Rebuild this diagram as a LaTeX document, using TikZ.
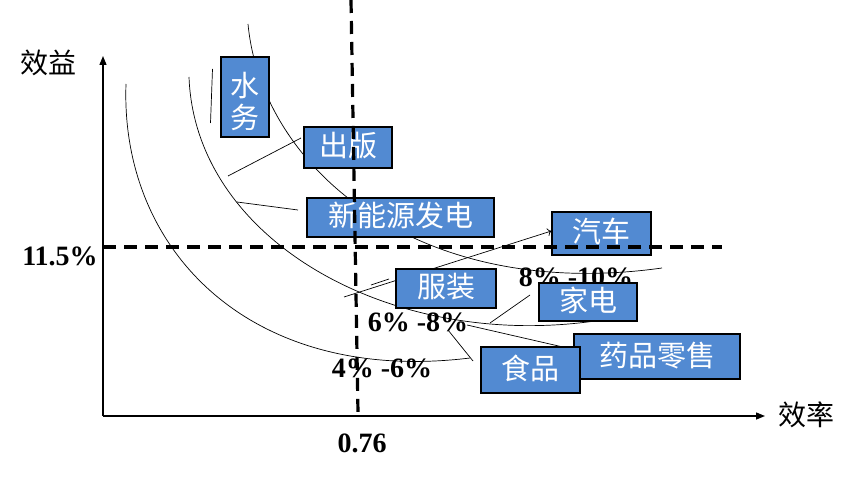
\documentclass[tikz,border=0pt]{standalone}
\usepackage{fontspec}
\setmainfont{Liberation Serif}
\newfontfamily\cjk{Noto Sans CJK SC}
\usetikzlibrary{arrows.meta}
\definecolor{boxblue}{RGB}{82,138,210}
\begin{document}
\begin{tikzpicture}[x=1pt,y=-1pt,
  curve/.style={line width=0.7pt},
  leader/.style={line width=0.7pt},
  axis/.style={line width=1.4pt,-{Triangle[length=9pt,width=7pt]}},
  guide/.style={line width=3.2pt,dash pattern=on 13pt off 8pt},
  catbox/.style={draw=black,line width=1.2pt,fill=boxblue,text=white,inner sep=0pt,
     font=\cjk\fontsize{29}{32}\selectfont,text height=24pt,text depth=5pt},
  boxtext/.style={text=white,inner sep=0pt,font=\cjk\fontsize{29}{32}\selectfont,text height=25pt,text depth=4pt},
  pct/.style={font=\bfseries\fontsize{28}{30}\selectfont,inner sep=0pt},
  axlabel/.style={font=\cjk\fontsize{28}{30}\selectfont,inner sep=0pt}]
\useasboundingbox (0,0) rectangle (862,478);

% axes
\coordinate (O) at (103,416);
\coordinate (Ytip) at (103,56);
\coordinate (Xtip) at (765,416);
\draw[axis] (O) -- (Ytip);
\draw[axis] (O) -- (Xtip);
\node[axlabel] (ylab) at (48,63) {效益};
\node[axlabel] (xlab) at (806,415) {效率};

% curves
\draw[curve] (126,84) .. controls (120,250) and (250,385) .. (470,358);
\draw[curve] (189,77) .. controls (195,240) and (390,350) .. (595,321);
\draw[curve] (248,24) .. controls (262,170) and (420,302) .. (662,268);

% labels
\node[pct] (p115) at (60,256) {11.5\%};
\node[pct] (p076) at (362,443) {0.76};
\node[pct] (p810) at (576,277) {8\% -10\%};
\node[pct] (p68) at (418,322) {6\% -8\%};
\node[pct] (p46) at (382,368) {4\% -6\%};

% leader end points
\coordinate (sw1) at (212.5,69);
\coordinate (sw2) at (210.5,123);
\coordinate (cb1) at (301,138);
\coordinate (cb2) at (228,176);
\coordinate (xn1) at (298,210);
\coordinate (xn2) at (237,202);
\coordinate (fz1) at (344,297);
\coordinate (fz3) at (371,285);
\coordinate (fz4) at (389,279);
\coordinate (jd1) at (530,295);
\coordinate (jd2) at (490,323);
\coordinate (yp1) at (467,325);
\coordinate (yp2) at (576,350);
\coordinate (sp1) at (448,330);
\coordinate (sp2) at (473,361);

% boxes
\node[catbox,minimum width=187pt,minimum height=39pt] (xny) at (400.5,217.5) {新能源发电};
\node[catbox,minimum width=99pt,minimum height=43pt] (qc) at (601.5,233.5) {汽车};
\node[catbox,minimum width=166pt,minimum height=45pt] (yp) at (657,356.5) {药品零售};

\draw[leader] (sw1) -- (sw2);
\draw[leader] (cb1) -- (cb2);
\draw[leader] (xn1) -- (xn2);
\draw[leader,-{To[length=4pt,width=8pt]}] (fz1) -- (qc.west |- 0,231);
\draw[leader] (fz3) -- (fz4);
\draw[leader] (jd1) -- (jd2);
\draw[leader] (yp1) -- (yp2);
\draw[leader] (sp1) -- (sp2);

\node[catbox,minimum width=48pt,minimum height=80pt] (sw) at (245,97) {};
\node[boxtext] (swA) at (245,86) {水};
\node[boxtext] (swB) at (245,118.5) {务};
\node[catbox,minimum width=88pt,minimum height=41pt] (cb) at (348,147.5) {出版};
\node[catbox,minimum width=100pt,minimum height=39pt] (fz) at (446,288.5) {服装};
\node[catbox,minimum width=98pt,minimum height=38pt] (jd) at (588,302) {家电};
\node[catbox,minimum width=99pt,minimum height=46pt] (sp) at (530.5,370) {食品};

% guide lines
\coordinate (v1) at (351,0);
\coordinate (v2) at (358,413);
\coordinate (h1) at (103,247);
\coordinate (h2) at (722,247);
\draw[guide] (v1) -- (v2);
\draw[guide] (h1) -- (h2);
\end{tikzpicture}
\end{document}
